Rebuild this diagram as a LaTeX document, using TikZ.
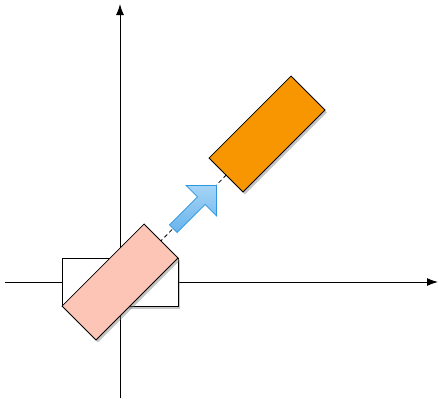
\documentclass[tikz,border=0pt]{standalone}
\usetikzlibrary{arrows.meta,shapes.arrows,shadows}

\definecolor{boxpink}{RGB}{252,197,181}
\definecolor{boxorange}{RGB}{247,150,0}
\definecolor{arrowline}{RGB}{45,150,220}
\definecolor{arrowtop}{RGB}{165,212,246}
\definecolor{arrowbot}{RGB}{105,180,236}

\begin{document}
\begin{tikzpicture}[
  x=1bp, y=1bp,
  every node/.style={draw, line width=0.8bp, inner sep=0pt},
  box/.style={minimum width=116bp, minimum height=48bp,
    drop shadow={shadow xshift=2bp, shadow yshift=-2.5bp, opacity=0.45}},
  >={Latex[length=11bp,width=8bp]}
]
\useasboundingbox (-120,-116) rectangle (319,282);

% axes
\coordinate (o) at (0,0);
\coordinate (xl) at (-115,0);
\coordinate (xr) at (318,0);
\coordinate (yb) at (0,-116);
\coordinate (yt) at (0,278);
\draw[->, line width=1bp] (xl) -- (xr);
\draw[->, line width=1bp] (yb) -- (yt);

% translation path
\coordinate (c) at (147,148);
\draw[dashed, dash pattern=on 4bp off 3bp, line width=0.8bp] (o) -- (c);

\node[box, fill=white] (orig) at (o) {};
\node[box, fill=boxpink, rotate=45] (turned) at (o) {};
\node[box, fill=boxorange, rotate=45] (moved) at (c) {};

\node[single arrow, draw=arrowline, top color=arrowtop, bottom color=arrowbot,
  inner xsep=0pt, inner ysep=5bp, minimum height=61bp,
  single arrow head extend=16bp, rotate=45] (shift) at (73,73) {};
\end{tikzpicture}
\end{document}
